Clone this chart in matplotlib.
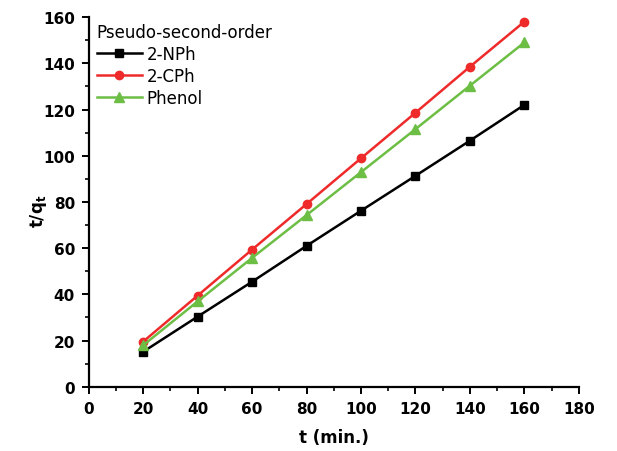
import numpy as np
import matplotlib.pyplot as plt
from matplotlib.ticker import MultipleLocator

plt.rcParams['font.family'] = ['DejaVu Sans']

# data
t = [20, 40, 60, 80, 100, 120, 140, 160]
nph = [15.2, 30.4, 45.5, 61.0, 76.2, 91.3, 106.5, 122.0]
cph = [19.6, 39.5, 59.4, 79.1, 98.9, 118.6, 138.5, 158.0]
phenol = [18.0, 37.0, 55.8, 74.3, 92.9, 111.5, 130.3, 149.0]

fig = plt.figure(figsize=(6.17, 4.52), dpi=100)
ax = fig.add_axes([0.144, 0.142, 0.794, 0.818])

ax.plot(t, nph, color='black', marker='s', ms=5.5, lw=1.8, label='2-NPh')
ax.plot(t, cph, color='#EE2A2A', marker='o', ms=6, lw=1.8, label='2-CPh')
ax.plot(t, phenol, color='#6DBE45', marker='^', ms=7.5, lw=1.8, label='Phenol')

ax.set_xlim(0, 180)
ax.set_ylim(0, 160)
ax.xaxis.set_major_locator(MultipleLocator(20))
ax.xaxis.set_minor_locator(MultipleLocator(10))
ax.yaxis.set_major_locator(MultipleLocator(20))
ax.yaxis.set_minor_locator(MultipleLocator(10))

for s in ['top', 'right']:
    ax.spines[s].set_visible(False)
for s in ['left', 'bottom']:
    ax.spines[s].set_linewidth(1.6)

ax.tick_params(which='major', direction='out', length=5, width=1.4, labelsize=11, pad=5)
ax.tick_params(which='minor', direction='out', length=3, width=1.2)
for lab in ax.get_xticklabels() + ax.get_yticklabels():
    lab.set_fontweight('bold')

ax.set_xlabel('t (min.)', fontsize=12, fontweight='bold', labelpad=9)
ax.set_ylabel('t/q$_\\mathregular{t}$', fontsize=12, fontweight='bold')
ax.yaxis.set_label_coords(-0.082, 0.478)

leg = ax.legend(title='Pseudo-second-order', loc='upper left', bbox_to_anchor=(0.016, 0.983),
                frameon=False, fontsize=12, title_fontsize=12,
                handlelength=2.7, handletextpad=0.3, labelspacing=0.23, borderpad=0.0,
                borderaxespad=0.0)
leg._legend_box.align = 'left'

fig.savefig('out.png', dpi=100)
